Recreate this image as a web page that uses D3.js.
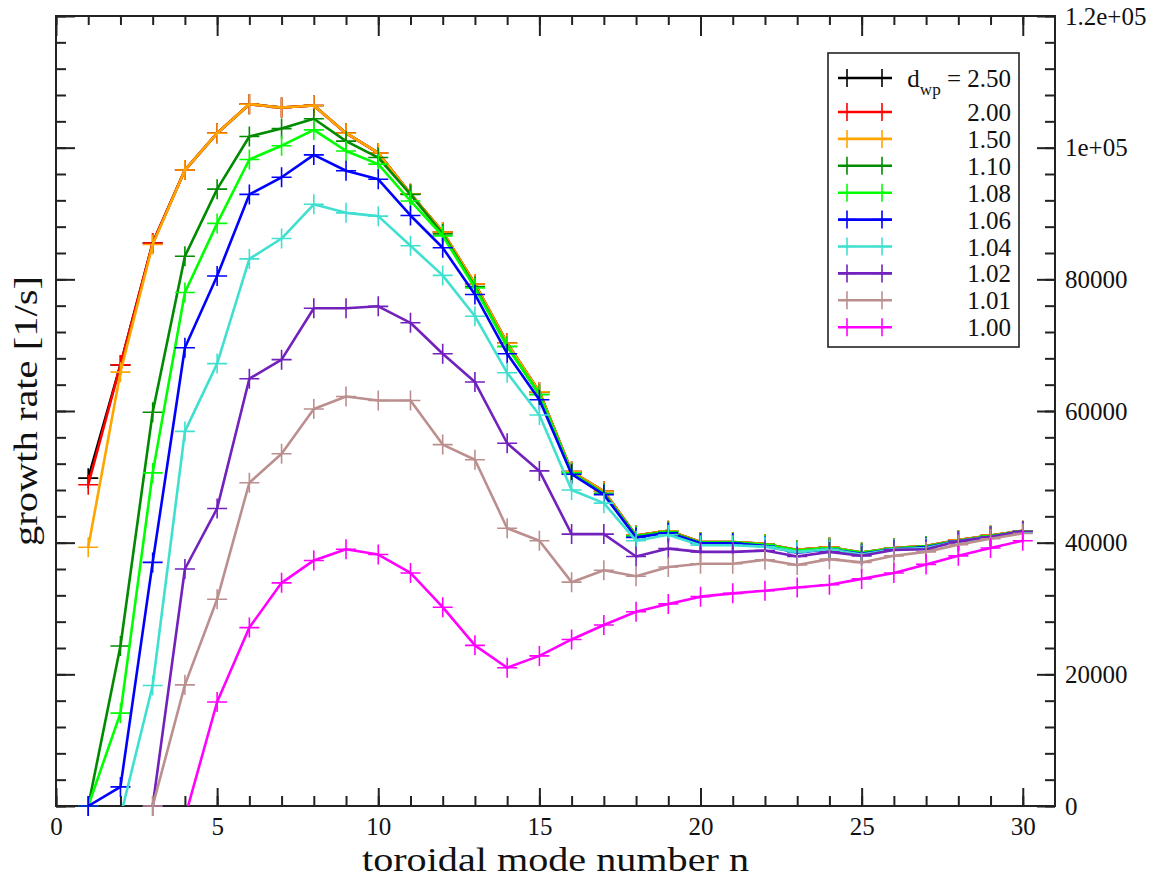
<!DOCTYPE html>
<html>
<head>
<meta charset="utf-8">
<script src="https://cdn.jsdelivr.net/npm/d3@7"></script>
<style>
  body { margin: 0; background: #fff; }
  svg { font-family: "Liberation Serif", "Times New Roman", serif; }
</style>
</head>
<body>
<script>
// toroidal mode numbers
var modeN = [1, 2, 3, 4, 5, 6, 7, 8, 9, 10, 11, 12, 13, 14, 15, 16, 17, 18, 19, 20, 21, 22, 23, 24, 25, 26, 27, 28, 29, 30];

// growth rate [1/s] per d_wp (null = no point)
var dwp250 = [49800, 67000, 85500, 96600, 102200, 106600, 106100, 106400, 102200, 99200, 93000, 87200, 79300, 70300, 62900, 50800, 47800, 41100, 41800, 40100, 40100, 39800, 38900, 39300, 38500, 39200, 39500, 40400, 41100, 41800];
var dwp200 = [48800, 67000, 85500, 96600, 102200, 106600, 106100, 106400, 102200, 99200, 93000, 87200, 79300, 70300, 62900, 50800, 47800, 41100, 41800, 40100, 40100, 39800, 38900, 39300, 38500, 39200, 39500, 40400, 41100, 41800];
var dwp150 = [39300, 65900, 85300, 96600, 102200, 106600, 106100, 106400, 102200, 99200, 93000, 87200, 79300, 70300, 62900, 50800, 47800, 41100, 41800, 40100, 40100, 39800, 38900, 39300, 38500, 39200, 39500, 40400, 41100, 41800];
var dwp110 = [0, 24300, 59800, 83500, 93700, 101700, 102900, 104400, 101000, 98500, 92900, 86900, 78900, 69800, 62500, 50600, 47500, 41000, 41700, 40000, 40000, 39700, 38800, 39200, 38400, 39100, 39400, 40300, 41000, 41700];
var dwp108 = [0, 14100, 50600, 78000, 88500, 98200, 100300, 102700, 99500, 97500, 91900, 86600, 78700, 69800, 62500, 50600, 47400, 41000, 41600, 40000, 40000, 39700, 38800, 39200, 38500, 39100, 39400, 40300, 41000, 41700];
var dwp106 = [0, 2900, 37000, 69600, 80500, 92900, 95500, 98900, 96500, 95200, 89700, 84800, 77700, 68700, 61700, 50400, 47300, 40800, 41500, 39900, 39900, 39500, 38500, 39000, 38300, 39000, 39300, 40200, 40900, 41700];
var dwp104 = [null, -1600, 18300, 56900, 67200, 83100, 86200, 91400, 90100, 89600, 85100, 80600, 74400, 65800, 59400, 48000, 46000, 40300, 41200, 39600, 39600, 39400, 38600, 39000, 38200, 39000, 39200, 40200, 40900, 41600];
var dwp102 = [null, null, 0, 36000, 45200, 64900, 67800, 75600, 75600, 75900, 73400, 68700, 64400, 55100, 50900, 41300, 41300, 37900, 39100, 38600, 38600, 38800, 37900, 38600, 38000, 38900, 39000, 40200, 40900, 41700];
var dwp101 = [null, null, 0, 18400, 31400, 49100, 53500, 60300, 62200, 61600, 61600, 54900, 52600, 42200, 40300, 34000, 35800, 34900, 36300, 36800, 36800, 37400, 36600, 37500, 37000, 38000, 38600, 39700, 40600, 41400];
var dwp100 = [null, null, null, -1750, 15800, 27100, 33900, 37300, 39000, 38200, 35400, 30200, 24400, 21000, 22800, 25300, 27500, 29500, 30700, 31800, 32300, 32700, 33200, 33600, 34500, 35400, 36700, 38000, 39200, 40300];

var seriesLabels = ["2.50", "2.00", "1.50", "1.10", "1.08", "1.06", "1.04", "1.02", "1.01", "1.00"];
var seriesColors = ["#000000", "#ff0000", "#ffa500", "#008b00", "#00ff00", "#0000ff", "#40e0d0", "#7221bc", "#bc8f8f", "#ff00ff"];
var seriesValues = [dwp250, dwp200, dwp150, dwp110, dwp108, dwp106, dwp104, dwp102, dwp101, dwp100];

var xTicks = [0, 5, 10, 15, 20, 25, 30];
var yTicks = [0, 20000, 40000, 60000, 80000, 100000, 120000];
var yTickLabels = ["0", "20000", "40000", "60000", "80000", "1e+05", "1.2e+05"];

var w = 1160, h = 877;
var plotL = 56, plotR = 1055, plotT = 16, plotB = 806;

var svg = d3.select("body").append("svg")
    .attr("width", w)
    .attr("height", h);

var x = d3.scaleLinear().domain([0, 31]).range([plotL, plotR]);
var y = d3.scaleLinear().domain([0, 120000]).range([plotB, plotT]);

svg.append("defs").append("clipPath")
    .attr("id", "plotClip")
    .append("rect")
    .attr("x", plotL).attr("y", plotT)
    .attr("width", plotR - plotL).attr("height", plotB - plotT);

// --- axes (ticks point inward) ---
var minorX = d3.range(0, 31);
var minorY = d3.range(0, 120001, 4000);

function styleAxis(g) {
    g.select(".domain").remove();
    g.selectAll(".tick line").attr("stroke", "#222").attr("stroke-width", 2);
    g.selectAll("text").attr("fill", "#111").style("font-size", "25px")
        .style("font-family", "Liberation Serif, serif");
}

// minor ticks
svg.append("g").attr("transform", "translate(0," + plotB + ")")
    .call(d3.axisBottom(x).tickValues(minorX).tickSize(-10).tickFormat(""))
    .call(styleAxis);
svg.append("g").attr("transform", "translate(0," + plotT + ")")
    .call(d3.axisTop(x).tickValues(minorX).tickSize(-9).tickFormat(""))
    .call(styleAxis);
svg.append("g").attr("transform", "translate(" + plotL + ",0)")
    .call(d3.axisLeft(y).tickValues(minorY).tickSize(-10).tickFormat(""))
    .call(styleAxis);
svg.append("g").attr("transform", "translate(" + plotR + ",0)")
    .call(d3.axisRight(y).tickValues(minorY).tickSize(-10).tickFormat(""))
    .call(styleAxis);

// major ticks
svg.append("g").attr("transform", "translate(0," + plotB + ")")
    .call(d3.axisBottom(x).tickValues(xTicks).tickSize(-18).tickPadding(11).tickFormat(d3.format("d")))
    .call(styleAxis);
svg.append("g").attr("transform", "translate(0," + plotT + ")")
    .call(d3.axisTop(x).tickValues(xTicks).tickSize(-20).tickFormat(""))
    .call(styleAxis);
svg.append("g").attr("transform", "translate(" + plotL + ",0)")
    .call(d3.axisLeft(y).tickValues(yTicks).tickSize(-19).tickFormat(""))
    .call(styleAxis);
svg.append("g").attr("transform", "translate(" + plotR + ",0)")
    .call(d3.axisRight(y).tickValues(yTicks).tickSize(-18).tickPadding(10)
        .tickFormat(function(d, i) { return yTickLabels[i]; }))
    .call(styleAxis)
    .selectAll("text").attr("text-anchor", "start");

// frame
svg.append("rect")
    .attr("x", plotL).attr("y", plotT)
    .attr("width", plotR - plotL).attr("height", plotB - plotT)
    .attr("fill", "none")
    .attr("stroke", "#222")
    .attr("stroke-width", 2);

// --- series ---
var line = d3.line()
    .defined(function(d) { return d.v !== null; })
    .x(function(d) { return x(d.n); })
    .y(function(d) { return y(d.v); });

var plus = "M-10,0H10M0,-10V10";

seriesValues.forEach(function(vals, k) {
    var pts = modeN.map(function(n, i) { return { n: n, v: vals[i] }; });

    svg.append("path")
        .datum(pts)
        .attr("clip-path", "url(#plotClip)")
        .attr("fill", "none")
        .attr("stroke", seriesColors[k])
        .attr("stroke-width", 2.6)
        .attr("stroke-linejoin", "round")
        .attr("d", line);

    svg.append("g").selectAll("path")
        .data(pts.filter(function(d) { return d.v !== null && d.v >= 0; }))
        .enter().append("path")
        .attr("transform", function(d) { return "translate(" + x(d.n) + "," + y(d.v) + ")"; })
        .attr("d", plus)
        .attr("stroke", seriesColors[k])
        .attr("stroke-width", 1.6)
        .attr("fill", "none");
});

// --- legend ---
var legend = svg.append("g");
legend.append("rect")
    .attr("x", 828).attr("y", 53)
    .attr("width", 191).attr("height", 294)
    .attr("fill", "#fff")
    .attr("stroke", "#222")
    .attr("stroke-width", 1.6);

seriesLabels.forEach(function(lab, k) {
    var ry = k === 0 ? 78 : 112 + (k - 1) * 26.9;
    var c = seriesColors[k];
    var row = legend.append("g").attr("transform", "translate(0," + ry + ")");
    row.append("line")
        .attr("x1", 838).attr("x2", 892)
        .attr("stroke", c).attr("stroke-width", 2.6);
    [847, 882].forEach(function(mx) {
        row.append("path")
            .attr("transform", "translate(" + mx + ",0)")
            .attr("d", "M-9,0H9M0,-9V9")
            .attr("stroke", c).attr("stroke-width", 1.6);
    });
    var t = row.append("text")
        .attr("x", 1011).attr("y", 9)
        .attr("text-anchor", "end")
        .attr("fill", "#111")
        .style("font-size", "25px");
    if (k === 0) {
        t.append("tspan").text("d");
        t.append("tspan").attr("dy", 8).style("font-size", "17px").text("wp");
        t.append("tspan").attr("dy", -8).text(" = " + lab);
    } else {
        t.text(lab);
    }
});

// --- axis titles ---
svg.append("text")
    .attr("x", (plotL + plotR) / 2)
    .attr("y", 871)
    .attr("text-anchor", "middle")
    .attr("fill", "#111")
    .attr("textLength", 387)
    .attr("lengthAdjust", "spacingAndGlyphs")
    .style("font-size", "34px")
    .text("toroidal mode number n");

svg.append("text")
    .attr("transform", "translate(37," + ((plotT + plotB) / 2) + ") rotate(-90)")
    .attr("text-anchor", "middle")
    .attr("fill", "#111")
    .attr("textLength", 270)
    .attr("lengthAdjust", "spacingAndGlyphs")
    .style("font-size", "34px")
    .text("growth rate [1/s]");
</script>
</body>
</html>
